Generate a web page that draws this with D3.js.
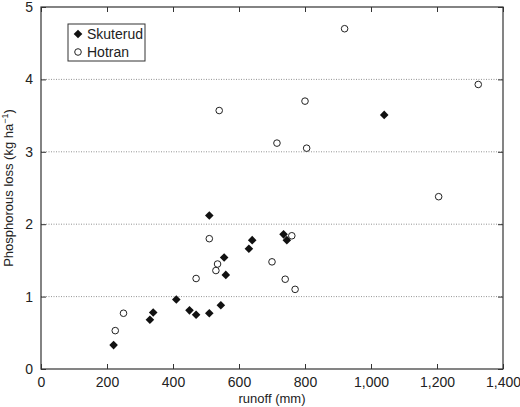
<!DOCTYPE html>
<html><head><meta charset="utf-8">
<script src="https://cdn.jsdelivr.net/npm/d3@7"></script>
<style>body{margin:0;background:#fff}text{font-family:Arial,"Liberation Sans",sans-serif;fill:#222}</style>
</head><body><div id="chart"></div>
<script>
var skRunoff = [220,330,340,410,450,470,510,545,510,555,560,630,640,735,745,1040];
var skLoss   = [0.33,0.68,0.78,0.96,0.81,0.75,0.77,0.88,2.12,1.54,1.30,1.66,1.78,1.86,1.78,3.51];
var hoRunoff = [225,250,470,510,530,535,540,700,715,740,760,770,800,805,920,1205,1325];
var hoLoss   = [0.53,0.77,1.25,1.80,1.36,1.45,3.57,1.48,3.12,1.24,1.84,1.10,3.70,3.05,4.70,2.38,3.93];
var xTicks = [0,200,400,600,800,1000,1200,1400];
var yTicks = [0,1,2,3,4,5];

var width = 520, height = 407,
    m = {left: 41, right: 17, top: 7, bottom: 38};

var svg = d3.select("#chart").append("svg").attr("width", width).attr("height", height);

var x = d3.scaleLinear().domain([0,1400]).range([m.left, width - m.right]);
var y = d3.scaleLinear().domain([0,5]).range([height - m.bottom, m.top]);

// dotted grid
svg.selectAll(".grid").data([1,2,3,4]).enter().append("line")
   .attr("x1", x(0)).attr("x2", x(1400))
   .attr("y1", d => y(d)).attr("y2", d => y(d))
   .style("stroke", "#777").style("stroke-dasharray", "1,1.5").style("stroke-width", 0.8);

var fmt = d3.format(",");
function styleAxis(g){ g.select(".domain").remove(); g.selectAll("line").style("stroke","#333"); g.selectAll("text").style("font-size","14px"); }

svg.append("g").attr("transform", `translate(0,${y(0)})`)
   .call(d3.axisBottom(x).tickValues(xTicks).tickFormat(fmt).tickSizeInner(-5).tickSizeOuter(0).tickPadding(8))
   .call(styleAxis);
svg.append("g").attr("transform", `translate(0,${y(5)})`)
   .call(d3.axisTop(x).tickValues(xTicks).tickFormat("").tickSizeInner(-5).tickSizeOuter(0))
   .call(styleAxis);
svg.append("g").attr("transform", `translate(${x(0)},0)`)
   .call(d3.axisLeft(y).tickValues(yTicks).tickFormat(d3.format("d")).tickSizeInner(-5).tickSizeOuter(0).tickPadding(8))
   .call(styleAxis);
svg.append("g").attr("transform", `translate(${x(1400)},0)`)
   .call(d3.axisRight(y).tickValues(yTicks).tickFormat("").tickSizeInner(-5).tickSizeOuter(0))
   .call(styleAxis);

svg.append("rect").attr("x", x(0)).attr("y", y(5))
   .attr("width", x(1400) - x(0)).attr("height", y(0) - y(5))
   .style("fill", "none").style("stroke", "#333").style("stroke-width", 1.2);

// square rotated 45 degrees, like the reference's diamond
var diamond = "M0,-4.3L4.3,0L0,4.3L-4.3,0Z";

svg.selectAll(".ho").data(hoRunoff).enter().append("circle")
   .attr("cx", d => x(d)).attr("cy", (d,i) => y(hoLoss[i])).attr("r", 3.3)
   .style("fill", "#fff").style("stroke", "#222").style("stroke-width", 1);

svg.selectAll(".sk").data(skRunoff).enter().append("path")
   .attr("d", diamond)
   .attr("transform", (d,i) => `translate(${x(d)},${y(skLoss[i])})`)
   .style("fill", "#111");

// legend
var lg = svg.append("g").attr("transform", "translate(68,24)");
lg.append("rect").attr("width", 77).attr("height", 37).style("fill","#fff").style("stroke","#333");
lg.append("path").attr("d", diamond).attr("transform", "translate(10,10)").style("fill","#111");
lg.append("text").attr("x", 19).attr("y", 15).style("font-size","14px").text("Skuterud");
lg.append("circle").attr("cx", 10).attr("cy", 28).attr("r", 3.3).style("fill","#fff").style("stroke","#222");
lg.append("text").attr("x", 19).attr("y", 33).style("font-size","14px").text("Hotran");

svg.append("text").attr("x", (x(0)+x(1400))/2).attr("y", height - 4)
   .attr("text-anchor","middle").style("font-size","13px").text("runoff (mm)");

var yl = svg.append("text").attr("transform", `translate(13,${(y(0)+y(5))/2}) rotate(-90)`)
   .attr("text-anchor","middle").style("font-size","13px");
yl.append("tspan").text("Phosphorous loss (kg ha");
yl.append("tspan").attr("dy", -5).style("font-size","9px").text("\u22121");
yl.append("tspan").attr("dy", 5).text(")");
</script></body></html>
